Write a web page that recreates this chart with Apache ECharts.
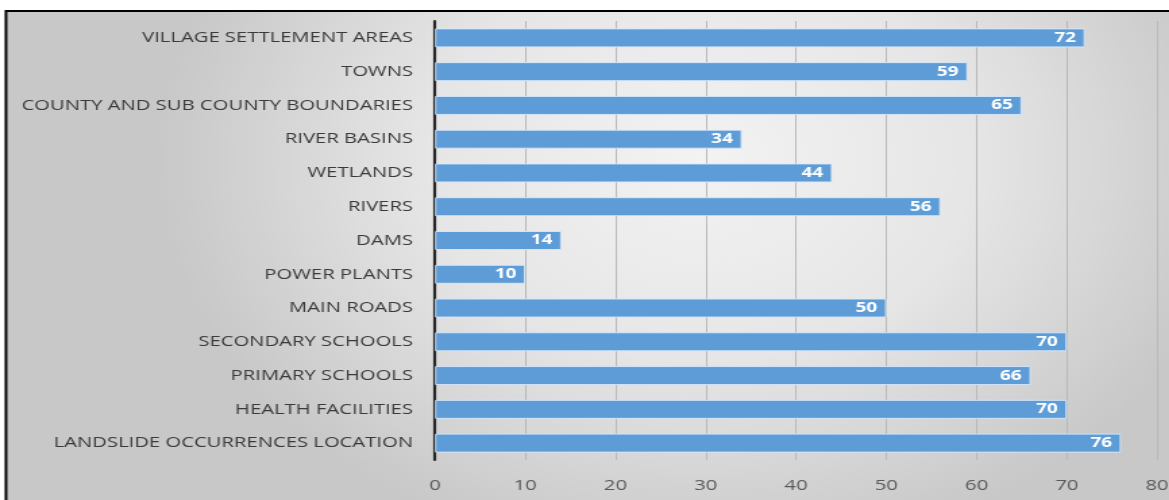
<!DOCTYPE html>
<html>
<head>
<meta charset="utf-8">
<style>
  html, body { margin: 0; padding: 0; background: #ffffff; overflow: hidden; }
  #chart { height: 500px; transform-origin: 0 0; }
</style>
<script src="https://cdn.jsdelivr.net/npm/echarts@6/dist/echarts.min.js"></script>
</head>
<body>
<div id="chart"></div>
<script>
// Map layers and the number of records for each
const categories = [
  'VILLAGE SETTLEMENT AREAS',
  'TOWNS',
  'COUNTY AND SUB COUNTY BOUNDARIES',
  'RIVER BASINS',
  'WETLANDS',
  'RIVERS',
  'DAMS',
  'POWER PLANTS',
  'MAIN ROADS',
  'SECONDARY SCHOOLS',
  'PRIMARY SCHOOLS',
  'HEALTH FACILITIES',
  'LANDSLIDE OCCURRENCES LOCATION'
];
const values = [72, 59, 65, 34, 44, 56, 14, 10, 50, 70, 66, 70, 76];
const axisMin = 0;
const axisMax = 80;
const axisStep = 10;

// The figure is laid out narrow and widened horizontally, giving the wide lettering.
const PAGE_W = 1169;
const STRETCH = 1.35;
const W = PAGE_W / STRETCH;
const px = v => v / STRETCH;   // page x-distance -> chart units

const el = document.getElementById('chart');
el.style.width = W + 'px';
el.style.transform = 'scaleX(' + STRETCH + ')';

const FONT = '"Open Sans", "Noto Sans", sans-serif';

const chart = echarts.init(el, null, { renderer: 'canvas' });

chart.setOption({
  animation: false,
  graphic: [
    {
      type: 'rect',
      z: -10,
      silent: true,
      shape: { x: px(6), y: 11, width: W + 20, height: 500 },
      style: {
        fill: {
          type: 'radial', x: 0.58, y: 0.3, r: 0.8,
          colorStops: [
            { offset: 0, color: '#f3f3f3' },
            { offset: 0.5, color: '#e6e6e6' },
            { offset: 1, color: '#c8c8c8' }
          ]
        },
        stroke: '#000000',
        lineWidth: 2
      }
    }
  ],
  grid: {
    left: px(435), right: px(12), top: 21, bottom: 40,
    containLabel: false,
    outerBoundsMode: 'none'
  },
  xAxis: {
    type: 'value',
    min: axisMin,
    max: axisMax,
    interval: axisStep,
    axisLine: { show: false },
    axisTick: { show: false },
    splitLine: { show: true, lineStyle: { color: '#b9b9b9', width: 1 } },
    axisLabel: { color: '#595959', fontSize: 15, fontFamily: FONT, margin: 18 }
  },
  yAxis: {
    type: 'category',
    data: categories,
    inverse: true,
    axisLine: { show: true, lineStyle: { color: '#262626', width: 2.2 } },
    axisTick: { show: false },
    axisLabel: { color: '#3a3a3a', fontSize: 15, fontFamily: FONT, margin: px(22) }
  },
  series: [
    {
      type: 'bar',
      data: values,
      barWidth: 19,
      itemStyle: {
        color: '#5d9cd7',
        borderColor: 'rgba(215,232,250,0.9)',
        borderWidth: 1
      },
      label: {
        show: true,
        position: 'insideRight',
        distance: px(9),
        color: '#ffffff',
        fontWeight: 'bold',
        fontSize: 14,
        fontFamily: FONT
      }
    }
  ]
});
</script>
</body>
</html>
